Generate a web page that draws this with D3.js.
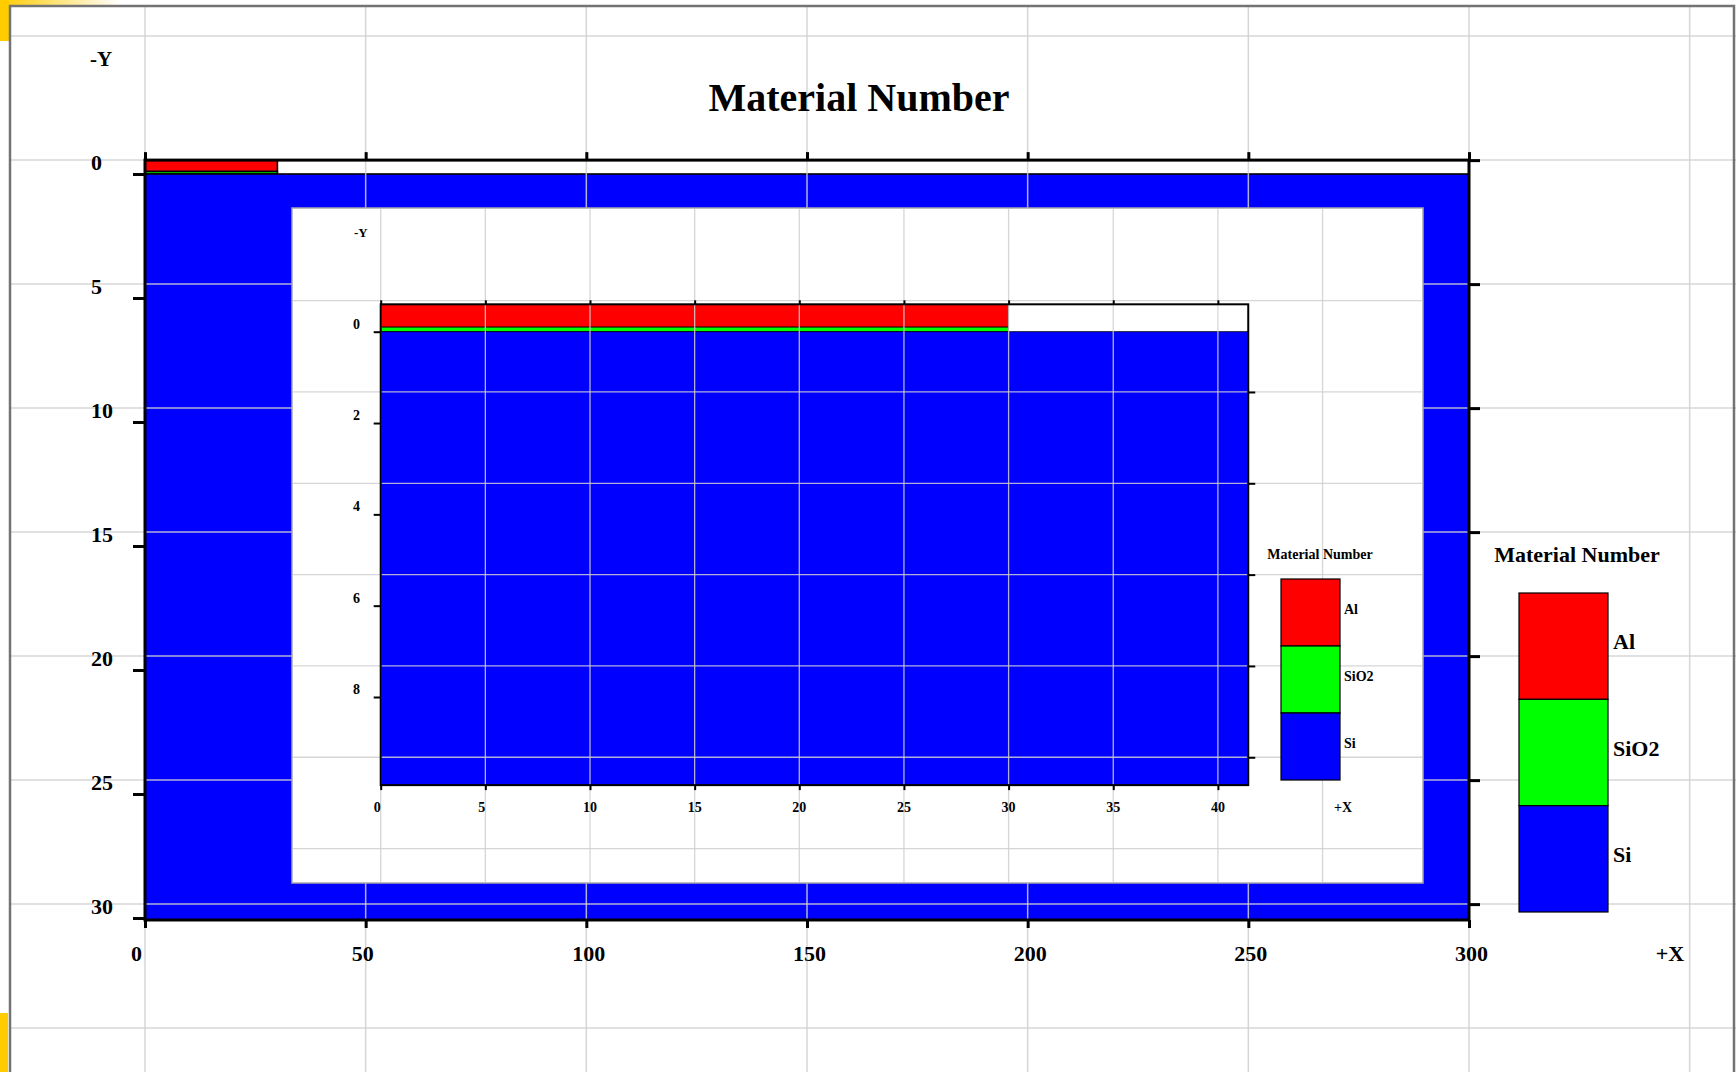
<!DOCTYPE html>
<html>
<head>
<meta charset="utf-8">
<script src="https://cdn.jsdelivr.net/npm/d3@7"></script>
<style>
  body { margin: 0; background: #fff; }
  svg { display: block; }
  text { font-family: "Liberation Serif", "Times New Roman", serif; font-weight: bold; fill: #000; }
</style>
</head>
<body>
<svg id="chart" width="1736" height="1072"></svg>
<script>
// Material layers of the cross-section (x along the surface, depth positive downward)
const materials = ["Al", "SiO2", "Si"];
const materialColors = ["#ff0000", "#00ff00", "#0000ff"];
const layerX0 = [0, 0, 0];
const layerX1 = [30, 30, 300];
const layerTop = [-0.6, -0.1, 0];
const layerBottom = [-0.1, 0, 30.1];

// Tick labels
const mainXTicks = [0, 50, 100, 150, 200, 250, 300];
const mainYTicks = [0, 5, 10, 15, 20, 25, 30];
const insetXTicks = [0, 5, 10, 15, 20, 25, 30, 35, 40];
const insetYTicks = [0, 2, 4, 6, 8];

const titleText = "Material Number";

const layers = materials.map((m, i) => ({
  name: m, color: materialColors[i],
  x0: layerX0[i], x1: layerX1[i], y0: layerTop[i], y1: layerBottom[i]
}));

const svg = d3.select("#chart");
const W = 1736, H = 1072;

// ---------- page decoration ----------
const defs = svg.append("defs");
const grad = defs.append("linearGradient").attr("id", "corner").attr("x1", 0).attr("x2", 1);
grad.append("stop").attr("offset", 0).attr("stop-color", "#ffcc00");
grad.append("stop").attr("offset", 1).attr("stop-color", "#ffffff");
svg.append("rect").attr("x", 0).attr("y", 0).attr("width", 120).attr("height", 5).attr("fill", "url(#corner)");
svg.append("rect").attr("x", 0).attr("y", 0).attr("width", 9).attr("height", 41).attr("fill", "#ffcc00");
svg.append("rect").attr("x", 0).attr("y", 1013).attr("width", 8).attr("height", 59).attr("fill", "#ffcc00");

// ---------- main view scales ----------
const x = d3.scaleLinear().domain([0, 300]).range([145, 1469]);
const y = d3.scaleLinear().domain([0, 30]).range([174, 918]);
const mainBox = { x0: 0, x1: 300, y0: -0.56, y1: 30.08 };

defs.append("clipPath").attr("id", "mainClip").append("rect")
  .attr("x", x(mainBox.x0)).attr("y", y(mainBox.y0))
  .attr("width", x(mainBox.x1) - x(mainBox.x0)).attr("height", y(mainBox.y1) - y(mainBox.y0));

const mainFill = svg.append("g").attr("clip-path", "url(#mainClip)");
mainFill.selectAll("rect").data(layers).join("rect")
  .attr("x", d => x(d.x0)).attr("y", d => y(d.y0))
  .attr("width", d => x(d.x1) - x(d.x0)).attr("height", d => y(d.y1) - y(d.y0))
  .attr("fill", d => d.color).attr("stroke", "#000").attr("stroke-width", 1.6);

// sheet grid across the whole page
const sheetCols = d3.range(0, 351, 50);
const sheetRows = d3.range(-5.56, 35, 5);
const grid = svg.append("g").attr("stroke", "#cfcfcf").attr("stroke-opacity", 0.85).attr("stroke-width", 1.5);
grid.selectAll(".gc").data(sheetCols).join("line").attr("class", "gc")
  .attr("x1", d => x(d)).attr("x2", d => x(d)).attr("y1", 5).attr("y2", H);
grid.selectAll(".gr").data(sheetRows).join("line").attr("class", "gr")
  .attr("x1", 10).attr("x2", W).attr("y1", d => y(d)).attr("y2", d => y(d));

// page frame
svg.append("path").attr("d", `M10,${H} V6 H1734 V${H}`).attr("fill", "none")
  .attr("stroke", "#737373").attr("stroke-width", 2.5);

// main axes
const axMain = svg.append("g");
function styleAxis(g, w) {
  g.select(".domain").remove();
  g.selectAll(".tick line").attr("stroke", "#000").attr("stroke-width", w);
  g.selectAll(".tick text").remove();
}
axMain.append("g").attr("transform", `translate(0,${y(mainBox.y0)})`)
  .call(d3.axisTop(x).tickValues(mainXTicks).tickSize(8).tickSizeOuter(0)).call(g => styleAxis(g, 3));
axMain.append("g").attr("transform", `translate(0,${y(mainBox.y1)})`)
  .call(d3.axisBottom(x).tickValues(mainXTicks).tickSize(8).tickSizeOuter(0)).call(g => styleAxis(g, 3));
axMain.append("g").attr("transform", `translate(${x(0)},0)`)
  .call(d3.axisLeft(y).tickValues(mainYTicks).tickSize(12).tickSizeOuter(0)).call(g => styleAxis(g, 3));
axMain.append("g").attr("transform", `translate(${x(300)},0)`)
  .call(d3.axisRight(y).tickValues(sheetRows.filter(v => v >= mainBox.y0 - 0.01 && v <= mainBox.y1)).tickSize(11).tickSizeOuter(0))
  .call(g => styleAxis(g, 3));
axMain.append("rect")
  .attr("x", x(mainBox.x0)).attr("y", y(mainBox.y0))
  .attr("width", x(mainBox.x1) - x(mainBox.x0)).attr("height", y(mainBox.y1) - y(mainBox.y0))
  .attr("fill", "none").attr("stroke", "#000").attr("stroke-width", 3);

// main labels
svg.append("g").selectAll("text").data(mainXTicks).join("text")
  .attr("x", d => x(d) - 14).attr("y", 961).attr("font-size", 22).text(d => d);
svg.append("g").selectAll("text").data(mainYTicks).join("text")
  .attr("x", 91).attr("y", d => y(d) - 4).attr("font-size", 22).text(d => d);
svg.append("text").attr("x", 90).attr("y", 66).attr("font-size", 21).text("-Y");
svg.append("text").attr("x", 1670).attr("y", 961).attr("text-anchor", "middle").attr("font-size", 22).text("+X");
svg.append("text").attr("x", 859).attr("y", 111).attr("text-anchor", "middle").attr("font-size", 40).text(titleText);

// legend
function legend(g, cx, titleY, fs, bx0, bx1, edges, labelX, labelDy) {
  g.append("text").attr("x", cx).attr("y", titleY).attr("text-anchor", "middle").attr("font-size", fs).text(titleText);
  const band = d3.scaleBand().domain(materials).range([edges[0], edges[edges.length - 1]]).padding(0);
  g.selectAll("rect").data(layers).join("rect")
    .attr("x", bx0).attr("y", d => band(d.name)).attr("width", bx1 - bx0).attr("height", band.bandwidth())
    .attr("fill", d => d.color).attr("stroke", "#000").attr("stroke-width", 1.2);
  g.selectAll("text.lab").data(layers).join("text").attr("class", "lab")
    .attr("x", labelX).attr("y", d => band(d.name) + band.bandwidth() / 2 + labelDy)
    .attr("font-size", fs).text(d => d.name);
}
legend(svg.append("g"), 1577, 562, 22, 1519, 1608, [593, 912], 1613, 3);

// ---------- inset (zoomed) view ----------
svg.append("rect").attr("x", 292).attr("y", 208).attr("width", 1131).attr("height", 675)
  .attr("fill", "#fff").attr("stroke", "#a8a8a8").attr("stroke-width", 1.5);

const xi = d3.scaleLinear().domain([0, 40]).range([380.7, 1217.9]);
const yi = d3.scaleLinear().domain([0, 8]).range([331.7, 697]);
const insetBox = { x0: 0, x1: 41.45, y0: -0.6, y1: 9.93 };

defs.append("clipPath").attr("id", "insetClip").append("rect")
  .attr("x", xi(insetBox.x0)).attr("y", yi(insetBox.y0))
  .attr("width", xi(insetBox.x1) - xi(insetBox.x0)).attr("height", yi(insetBox.y1) - yi(insetBox.y0));

const insetFill = svg.append("g").attr("clip-path", "url(#insetClip)");
insetFill.selectAll("rect").data(layers).join("rect")
  .attr("x", d => xi(d.x0)).attr("y", d => yi(d.y0))
  .attr("width", d => xi(Math.min(d.x1, insetBox.x1 + 1)) - xi(d.x0)).attr("height", d => yi(d.y1) - yi(d.y0))
  .attr("fill", d => d.color).attr("stroke", "#000").attr("stroke-width", 0.8);

const insetCols = d3.range(0, 46, 5);
const insetRows = d3.range(-2.68, 12, 2);
const igrid = svg.append("g").attr("stroke", "#cfcfcf").attr("stroke-opacity", 0.85).attr("stroke-width", 1.3);
igrid.selectAll(".c").data(insetCols).join("line").attr("class", "c")
  .attr("x1", d => xi(d)).attr("x2", d => xi(d)).attr("y1", 209).attr("y2", 882);
igrid.selectAll(".r").data(insetRows.filter(v => yi(v) > 210 && yi(v) < 882)).join("line").attr("class", "r")
  .attr("x1", 293).attr("x2", 1422).attr("y1", d => yi(d)).attr("y2", d => yi(d));

const axIn = svg.append("g");
axIn.append("g").attr("transform", `translate(0,${yi(insetBox.y0)})`)
  .call(d3.axisTop(xi).tickValues(insetXTicks).tickSize(4).tickSizeOuter(0)).call(g => styleAxis(g, 2));
axIn.append("g").attr("transform", `translate(0,${yi(insetBox.y1)})`)
  .call(d3.axisBottom(xi).tickValues(insetXTicks).tickSize(5).tickSizeOuter(0)).call(g => styleAxis(g, 2));
axIn.append("g").attr("transform", `translate(${xi(0)},0)`)
  .call(d3.axisLeft(yi).tickValues(insetYTicks).tickSize(7).tickSizeOuter(0)).call(g => styleAxis(g, 2));
axIn.append("g").attr("transform", `translate(${xi(insetBox.x1)},0)`)
  .call(d3.axisRight(yi).tickValues(insetRows.filter(v => v > insetBox.y0 && v < insetBox.y1)).tickSize(7).tickSizeOuter(0))
  .call(g => styleAxis(g, 2));
axIn.append("rect")
  .attr("x", xi(insetBox.x0)).attr("y", yi(insetBox.y0))
  .attr("width", xi(insetBox.x1) - xi(insetBox.x0)).attr("height", yi(insetBox.y1) - yi(insetBox.y0))
  .attr("fill", "none").attr("stroke", "#000").attr("stroke-width", 2);

svg.append("g").selectAll("text").data(insetXTicks).join("text")
  .attr("x", d => xi(d) - 7).attr("y", 812).attr("font-size", 14).text(d => d);
svg.append("g").selectAll("text").data(insetYTicks).join("text")
  .attr("x", 353).attr("y", d => yi(d) - 3).attr("font-size", 14).text(d => d);
svg.append("text").attr("x", 354).attr("y", 237).attr("font-size", 13).text("-Y");
svg.append("text").attr("x", 1343).attr("y", 812).attr("text-anchor", "middle").attr("font-size", 14).text("+X");

legend(svg.append("g"), 1320, 559, 14, 1281, 1340, [579, 780], 1344, 1);
</script>
</body>
</html>
